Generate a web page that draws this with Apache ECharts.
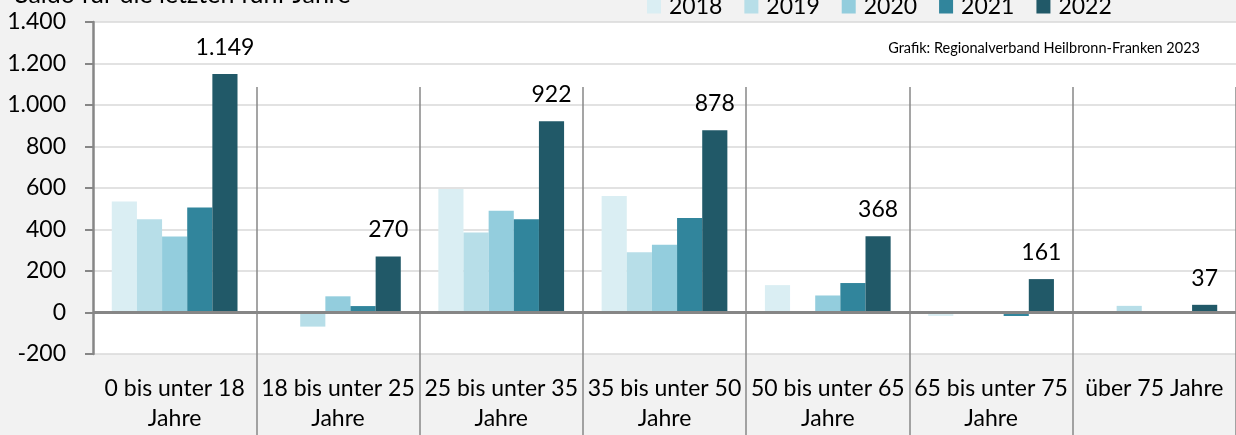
<!DOCTYPE html>
<html>
<head>
<meta charset="utf-8">
<script src="https://cdn.jsdelivr.net/npm/echarts@6/dist/echarts.min.js"></script>
<style>
html,body{margin:0;padding:0;background:#f2f2f2;}
#chart{width:1236px;height:435px;}
</style>
</head>
<body>
<div id="chart"></div>
<script>
const categories = ['0 bis unter 18\nJahre','18 bis unter 25\nJahre','25 bis unter 35\nJahre','35 bis unter 50\nJahre','50 bis unter 65\nJahre','65 bis unter 75\nJahre','über 75 Jahre'];
const years = ['2018','2019','2020','2021','2022'];
const v2018 = [535, -3, 595, 561, 132, -17, 0];
const v2019 = [450, -68, 385, 290, 0, 0, 32];
const v2020 = [366, 78, 490, 327, 82, 0, -3];
const v2021 = [506, 31, 449, 456, 142, -17, 0];
const v2022 = [1149, 270, 922, 878, 368, 161, 37];
const yMin = -200, yMax = 1400, yStep = 200;
const titleText = 'Saldo für die letzten fünf Jahre';
const sourceText = 'Grafik: Regionalverband Heilbronn-Franken 2023';

const colors = ['#daeef3','#b7dee8','#93cddd','#31859c','#215968'];
const FONT = 'Lato, "Liberation Sans", sans-serif';
const fmt = v => String(v).replace(/\B(?=(\d{3})+(?!\d))/g, '.');

const allValues = [v2018, v2019, v2020, v2021, v2022];
const series = allValues.map((vals, i) => {
  const s = {
    name: years[i],
    type: 'bar',
    xAxisIndex: 0,
    data: vals,
    barGap: '0%',
    barCategoryGap: '23%',
    itemStyle: {color: colors[i]},
    emphasis: {disabled: true},
    silent: true
  };
  if (i === 4) {
    s.label = {show: true, position: 'top', distance: 15, fontFamily: FONT, fontSize: 23, color: '#000',
      formatter: p => fmt(p.value)};
  }
  if (i === 0) {
    s.markLine = {silent: true, symbol: 'none', label: {show: false},
      lineStyle: {color: '#868686', width: 3, type: 'solid'},
      data: [{yAxis: 0}]};
  }
  return s;
});

const chart = echarts.init(document.getElementById('chart'), null, {renderer: 'canvas'});
chart.setOption({
  backgroundColor: '#f2f2f2',
  animation: false,
  title: [{
    text: titleText, left: 10, top: -23,
    textStyle: {fontFamily: FONT, fontSize: 25, fontWeight: 'normal', color: '#000'}
  }, {
    text: sourceText, right: 31, top: 36,
    textStyle: {fontFamily: FONT, fontSize: 14.5, fontWeight: 'normal', color: '#000'}
  }],
  legend: {
    data: years, left: 642, top: -10, itemWidth: 14, itemHeight: 14, itemGap: 22,
    icon: 'rect',
    textStyle: {fontFamily: FONT, fontSize: 23, color: '#000', padding: [0, 0, 0, 3]}
  },
  grid: {left: 93, right: 0, top: 22, bottom: 81, show: true, backgroundColor: '#ffffff', borderWidth: 0},
  xAxis: [{
    type: 'category', data: categories, position: 'bottom',
    axisLine: {show: false, onZero: false},
    axisTick: {show: true, inside: false, length: 90, interval: (i) => i > 0,
      lineStyle: {color: '#888', width: 1.5}},
    axisLabel: {fontFamily: FONT, fontSize: 23, color: '#000', lineHeight: 30, margin: 20, interval: 0},
    splitLine: {show: false}
  }, {
    type: 'category', data: categories, position: 'bottom',
    axisLine: {show: false, onZero: false},
    axisTick: {show: true, inside: true, length: 267, interval: (i) => i > 0,
      lineStyle: {color: '#888', width: 1.5}},
    axisLabel: {show: false},
    splitLine: {show: false}
  }],
  yAxis: {
    type: 'value', min: yMin, max: yMax, interval: yStep,
    axisLine: {show: true, lineStyle: {color: '#868686', width: 2.5}},
    axisTick: {show: true, length: 8, lineStyle: {color: '#868686', width: 2}},
    axisLabel: {fontFamily: FONT, fontSize: 23, color: '#000', margin: 27, formatter: v => fmt(v)},
    splitLine: {show: true, lineStyle: {color: '#d9d9d9', width: 1.5}}
  },
  series: series
});
</script>
</body>
</html>
